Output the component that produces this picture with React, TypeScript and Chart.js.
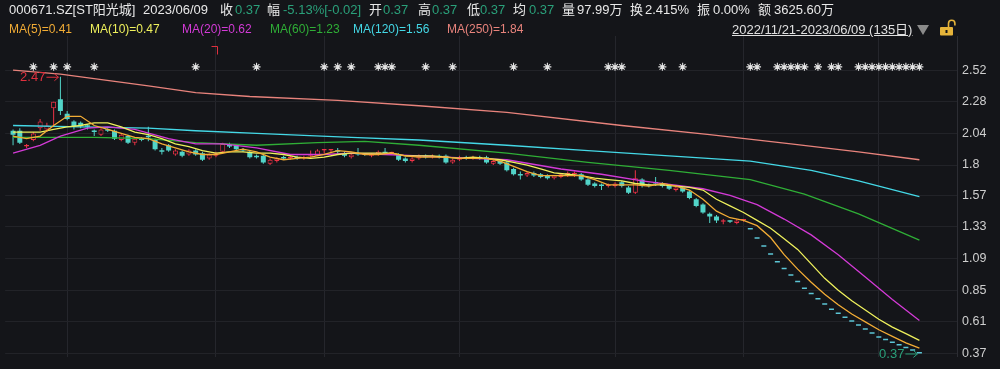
import React, { useEffect, useRef } from "react";
import { Chart, registerables } from "chart.js";
Chart.register(...registerables);

const BG = "#141519";
const RED = "#ee3347";
const CYAN = "#52d4c8";
const DASH = "#5cc6d6";
const GREEN_TXT = "#2aa07a";
const FONT = '"Liberation Sans", "Noto Sans CJK SC", sans-serif';

// ---- daily candles (135 trading days, 2022/11/21 - 2023/06/09) ----
const OPEN = [
  2.06, 2.06, 1.94, 1.99, 2.08, 2.07, 2.23, 2.30, 2.19, 2.13,
  2.12, 2.10, 2.06, 2.03, 2.07, 2.06, 1.99, 2.02, 1.97, 2.00,
  2.02, 1.99, 1.91, 1.95, 1.88, 1.90, 1.88, 1.91, 1.89, 1.85,
  1.87, 1.90, 1.96, 1.95, 1.92, 1.90, 1.87, 1.87, 1.81, 1.83,
  1.86, 1.85, 1.86, 1.85, 1.87, 1.87, 1.91, 1.91, 1.91, 1.89,
  1.86, 1.89, 1.89, 1.87, 1.88, 1.90, 1.89, 1.88, 1.85, 1.83,
  1.85, 1.87, 1.86, 1.87, 1.87, 1.82, 1.84, 1.86, 1.85, 1.86,
  1.86, 1.81, 1.83, 1.82, 1.77, 1.73, 1.72, 1.74, 1.73, 1.72,
  1.70, 1.71, 1.72, 1.73, 1.73, 1.69, 1.66, 1.65, 1.64, 1.64,
  1.67, 1.63, 1.59, 1.69, 1.65, 1.67, 1.66, 1.65, 1.61, 1.63,
  1.60, 1.54, 1.50, 1.43, 1.41, 1.37, 1.38, 1.36, 1.38,
  1.31, 1.24, 1.18, 1.12, 1.06, 1.01, 0.96, 0.91, 0.86, 0.82,
  0.78, 0.74, 0.70, 0.67, 0.64, 0.61, 0.58, 0.55, 0.52, 0.49,
  0.47, 0.45, 0.43, 0.41, 0.39, 0.37,
];
const HIGH = [
  2.07, 2.08, 1.96, 2.05, 2.15, 2.12, 2.28, 2.47, 2.21, 2.14,
  2.13, 2.11, 2.07, 2.08, 2.08, 2.07, 2.04, 2.03, 2.01, 2.01,
  2.09, 2.00, 1.93, 1.96, 1.92, 1.91, 1.92, 1.92, 1.90, 1.89,
  1.90, 1.97, 1.97, 1.96, 1.93, 1.91, 1.88, 1.88, 1.85, 1.86,
  1.87, 1.87, 1.87, 1.87, 1.91, 1.92, 1.92, 1.92, 1.93, 1.90,
  1.89, 1.93, 1.89, 1.89, 1.91, 1.93, 1.90, 1.89, 1.86, 1.86,
  1.88, 1.88, 1.88, 1.88, 1.88, 1.85, 1.87, 1.87, 1.87, 1.87,
  1.87, 1.84, 1.84, 1.83, 1.78, 1.75, 1.75, 1.75, 1.74, 1.73,
  1.72, 1.74, 1.75, 1.75, 1.74, 1.70, 1.67, 1.66, 1.66, 1.67,
  1.68, 1.64, 1.76, 1.70, 1.66, 1.71, 1.67, 1.65, 1.64, 1.64,
  1.61, 1.55, 1.51, 1.44, 1.42, 1.39, 1.38, 1.39, 1.39,
  1.31, 1.24, 1.18, 1.12, 1.06, 1.01, 0.96, 0.91, 0.86, 0.82,
  0.78, 0.74, 0.70, 0.67, 0.64, 0.61, 0.58, 0.55, 0.52, 0.49,
  0.47, 0.45, 0.43, 0.41, 0.39, 0.37,
];
const LOW = [
  1.95, 1.96, 1.93, 1.98, 2.06, 2.05, 2.10, 2.18, 2.14, 2.07,
  2.08, 2.07, 2.02, 2.02, 2.05, 1.99, 1.98, 1.96, 1.95, 1.98,
  1.98, 1.91, 1.88, 1.90, 1.87, 1.86, 1.87, 1.87, 1.83, 1.84,
  1.86, 1.89, 1.93, 1.91, 1.90, 1.85, 1.85, 1.81, 1.80, 1.82,
  1.84, 1.84, 1.84, 1.84, 1.86, 1.87, 1.89, 1.89, 1.88, 1.86,
  1.85, 1.87, 1.87, 1.86, 1.87, 1.88, 1.88, 1.83, 1.82, 1.82,
  1.84, 1.85, 1.85, 1.85, 1.81, 1.81, 1.83, 1.84, 1.84, 1.84,
  1.81, 1.80, 1.80, 1.75, 1.72, 1.69, 1.71, 1.71, 1.70, 1.69,
  1.69, 1.70, 1.71, 1.71, 1.68, 1.64, 1.63, 1.61, 1.63, 1.63,
  1.63, 1.58, 1.58, 1.63, 1.63, 1.64, 1.63, 1.61, 1.60, 1.59,
  1.54, 1.48, 1.43, 1.36, 1.36, 1.35, 1.36, 1.35, 1.37,
  1.31, 1.24, 1.18, 1.12, 1.06, 1.01, 0.96, 0.91, 0.86, 0.82,
  0.78, 0.74, 0.70, 0.67, 0.64, 0.61, 0.58, 0.55, 0.52, 0.49,
  0.47, 0.45, 0.43, 0.41, 0.39, 0.37,
];
const CLOSE = [
  2.03, 1.97, 1.95, 2.04, 2.13, 2.10, 2.28, 2.21, 2.15, 2.09,
  2.10, 2.09, 2.05, 2.07, 2.06, 2.00, 2.03, 1.97, 2.00, 1.99,
  2.01, 1.92, 1.90, 1.91, 1.91, 1.87, 1.91, 1.88, 1.84, 1.88,
  1.89, 1.96, 1.94, 1.92, 1.91, 1.86, 1.86, 1.82, 1.84, 1.85,
  1.85, 1.86, 1.85, 1.86, 1.88, 1.91, 1.92, 1.92, 1.90, 1.87,
  1.88, 1.88, 1.88, 1.88, 1.90, 1.89, 1.89, 1.84, 1.83, 1.85,
  1.87, 1.86, 1.87, 1.86, 1.82, 1.84, 1.86, 1.85, 1.86, 1.85,
  1.82, 1.83, 1.81, 1.76, 1.73, 1.72, 1.74, 1.72, 1.71, 1.70,
  1.72, 1.73, 1.74, 1.74, 1.69, 1.65, 1.64, 1.64, 1.65, 1.66,
  1.64, 1.59, 1.70, 1.64, 1.64, 1.66, 1.64, 1.62, 1.63, 1.60,
  1.55, 1.49, 1.44, 1.41, 1.38, 1.38, 1.37, 1.38, 1.38,
  1.31, 1.24, 1.18, 1.12, 1.06, 1.01, 0.96, 0.91, 0.86, 0.82,
  0.78, 0.74, 0.70, 0.67, 0.64, 0.61, 0.58, 0.55, 0.52, 0.49,
  0.47, 0.45, 0.43, 0.41, 0.39, 0.37,
];

// ---- moving averages as [day index, value] ----
const MA5: [number, number][] = [
  [0, 2.02], [2, 2.0], [4, 2.02], [6, 2.1], [8, 2.17], [10, 2.17], [12, 2.1], [14, 2.07],
  [16, 2.04], [18, 2.01], [20, 2.0], [22, 1.96], [24, 1.93], [26, 1.9], [28, 1.88], [30, 1.88],
  [32, 1.9], [34, 1.92], [36, 1.9], [38, 1.86], [40, 1.84], [42, 1.85], [44, 1.86], [46, 1.88],
  [48, 1.91], [50, 1.9], [52, 1.88], [54, 1.88], [56, 1.89], [58, 1.87], [60, 1.86], [62, 1.86],
  [64, 1.86], [66, 1.85], [68, 1.85], [70, 1.85], [72, 1.83], [74, 1.79], [76, 1.75], [78, 1.72],
  [80, 1.72], [82, 1.72], [84, 1.72], [86, 1.69], [88, 1.65], [90, 1.65], [92, 1.65], [94, 1.64],
  [96, 1.66], [98, 1.64], [100, 1.61], [102, 1.54], [104, 1.45], [106, 1.4], [108, 1.38], [110, 1.34],
  [112, 1.25], [114, 1.12], [116, 1.01], [118, 0.91], [120, 0.82], [122, 0.74], [124, 0.67], [126, 0.61],
  [128, 0.55], [130, 0.5], [132, 0.45], [134, 0.41],
];
const MA10: [number, number][] = [
  [0, 2.05], [2, 2.05], [4, 2.05], [6, 2.07], [8, 2.09], [10, 2.1], [12, 2.12], [14, 2.12],
  [16, 2.09], [18, 2.05], [20, 2.03], [22, 2.0], [24, 1.96], [26, 1.94], [28, 1.91], [30, 1.89],
  [32, 1.9], [34, 1.9], [36, 1.89], [38, 1.89], [40, 1.88], [42, 1.86], [44, 1.85], [46, 1.86],
  [48, 1.88], [50, 1.89], [52, 1.89], [54, 1.89], [56, 1.89], [58, 1.87], [60, 1.87], [62, 1.87],
  [64, 1.86], [66, 1.85], [68, 1.86], [70, 1.85], [72, 1.84], [74, 1.82], [76, 1.8], [78, 1.77],
  [80, 1.74], [82, 1.73], [84, 1.72], [86, 1.7], [88, 1.69], [90, 1.68], [92, 1.66], [94, 1.65],
  [96, 1.65], [98, 1.64], [100, 1.63], [102, 1.61], [104, 1.54], [106, 1.49], [108, 1.44], [110, 1.38],
  [112, 1.32], [114, 1.24], [116, 1.16], [118, 1.05], [120, 0.94], [122, 0.85], [124, 0.77], [126, 0.7],
  [128, 0.63], [130, 0.57], [132, 0.52], [134, 0.47],
];
const MA20: [number, number][] = [
  [0, 1.89], [4, 1.95], [7, 2.02], [11, 2.08], [14, 2.09], [18, 2.07], [23, 2.0], [27, 1.96],
  [31, 1.96], [36, 1.93], [41, 1.88], [46, 1.88], [50, 1.89], [55, 1.88], [60, 1.87], [68, 1.85],
  [73, 1.84], [81, 1.77], [87, 1.73], [93, 1.68], [102, 1.62], [106, 1.57], [110, 1.5], [114, 1.39],
  [118, 1.27], [122, 1.12], [126, 0.95], [130, 0.78], [134, 0.62],
];
const MA60: [number, number][] = [
  [0, 2.01], [12, 2.01], [20, 2.0], [27, 1.97], [36, 1.95], [45, 1.97], [52, 1.98], [60, 1.95],
  [73, 1.89], [85, 1.82], [97, 1.76], [109, 1.69], [117, 1.58], [125, 1.43], [134, 1.23],
];
const MA120: [number, number][] = [
  [0, 2.1], [10, 2.09], [20, 2.08], [27, 2.06], [36, 2.04], [50, 2.01], [60, 1.99], [73, 1.95],
  [85, 1.91], [97, 1.87], [109, 1.83], [118, 1.76], [125, 1.68], [134, 1.56],
];
const MA250: [number, number][] = [
  [0, 2.52], [7, 2.49], [20, 2.4], [27, 2.35], [35, 2.32], [48, 2.29], [60, 2.25], [73, 2.2],
  [90, 2.1], [103, 2.03], [115, 1.96], [125, 1.9], [134, 1.84],
];

// ---- markers & axes ----
const STAR_DAYS = [
  3, 6, 8, 12, 27, 36, 46, 48, 50, 54, 55, 56, 61, 65, 74, 79, 88, 89, 90, 96, 99,
  109, 110, 113, 114, 115, 116, 117, 119, 121, 122,
  125, 126, 127, 128, 129, 130, 131, 132, 133, 134,
];
const STAR_LEVEL = 2.545;
const INFO_DAYS = [30];
const MONTH_STARTS = [8, 30, 46, 66, 89, 108, 128];
const Y_TICKS = [2.52, 2.28, 2.04, 1.8, 1.57, 1.33, 1.09, 0.85, 0.61, 0.37];
const Y_LABELS = ["2.52", "2.28", "2.04", "1.8", "1.57", "1.33", "1.09", "0.85", "0.61", "0.37"];

const HEADER_ROW1: [number, string, string][] = [
  [9, "000671.SZ[ST阳光城]", "#e8e8e8"],
  [143, "2023/06/09", "#e8e8e8"],
  [220, "收", "#e8e8e8"], [235, "0.37", GREEN_TXT],
  [267, "幅", "#e8e8e8"], [283, "-5.13%[-0.02]", GREEN_TXT],
  [369, "开", "#e8e8e8"], [383, "0.37", GREEN_TXT],
  [418, "高", "#e8e8e8"], [432, "0.37", GREEN_TXT],
  [467, "低", "#e8e8e8"], [480, "0.37", GREEN_TXT],
  [513, "均", "#e8e8e8"], [529, "0.37", GREEN_TXT],
  [562, "量", "#e8e8e8"], [577, "97.99万", "#e8e8e8"],
  [630, "换", "#e8e8e8"], [645, "2.415%", "#e8e8e8"],
  [697, "振", "#e8e8e8"], [713, "0.00%", "#e8e8e8"],
  [758, "额", "#e8e8e8"], [774, "3625.60万", "#e8e8e8"],
];
const MA_COLORS = ["#f2ac35", "#eef05c", "#d33ad6", "#2fae36", "#44d8e6", "#e8837c"];
const MA_LEGEND: [number, string][] = [
  [9, "MA(5)=0.41"], [90, "MA(10)=0.47"], [182, "MA(20)=0.62"],
  [270, "MA(60)=1.23"], [353, "MA(120)=1.56"], [447, "MA(250)=1.84"],
];

const annotPlugin = {
  id: "annot",
  afterDatasetsDraw(chart: any) {
    const { ctx, scales, chartArea } = chart;
    const x = scales.x, y = scales.y;
    ctx.save();
    ctx.font = `13px ${FONT}`;
    ctx.textBaseline = "middle";
    ctx.textAlign = "right";
    ctx.lineWidth = 1;
    const arrow = (px: number, py: number, label: string, color: string) => {
      ctx.strokeStyle = color;
      ctx.fillStyle = color;
      ctx.beginPath();
      ctx.moveTo(px - 14, py + 0.5);
      ctx.lineTo(px - 2, py + 0.5);
      ctx.moveTo(px - 6, py - 3);
      ctx.lineTo(px - 2, py + 0.5);
      ctx.lineTo(px - 6, py + 4);
      ctx.stroke();
      ctx.fillText(label, px - 15, py + 1);
    };
    let hi = 0;
    let lo = 0;
    HIGH.forEach((v, i) => { if (v > HIGH[hi]) hi = i; });
    LOW.forEach((v, i) => { if (v <= LOW[lo]) lo = i; });
    arrow(x.getPixelForValue(hi), y.getPixelForValue(HIGH[hi]), HIGH[hi].toFixed(2), "#e0303e");
    arrow(x.getPixelForValue(lo), y.getPixelForValue(LOW[lo]), LOW[lo].toFixed(2), GREEN_TXT);
    ctx.strokeStyle = "#e0303e";
    INFO_DAYS.forEach((d) => {
      const px = Math.round(x.getPixelForValue(d)) + 1.5;
      const py = chartArea.top + 10.5;
      ctx.beginPath();
      ctx.moveTo(px - 6, py);
      ctx.lineTo(px, py);
      ctx.lineTo(px, py + 8);
      ctx.stroke();
    });
    ctx.restore();
  },
};

function Txt(props: { x: number; y: number; s: number; c: string; u?: boolean; children: any }) {
  const { x, y, s, c, u, children } = props;
  return (
    <span
      style={{
        position: "absolute",
        left: x,
        top: y - s * 0.6,
        fontSize: s,
        lineHeight: `${s * 1.2}px`,
        color: c,
        whiteSpace: "nowrap",
        textDecoration: u ? "underline" : "none",
      }}
    >
      {children}
    </span>
  );
}

export default function App() {
  const ref = useRef<HTMLCanvasElement | null>(null);

  useEffect(() => {
    const N = CLOSE.length;
    const idx = Array.from({ length: N }, (_, i) => i);
    const up = idx.map((i) =>
      CLOSE[i] > OPEN[i] || (CLOSE[i] === OPEN[i] && i > 0 && CLOSE[i] >= CLOSE[i - 1])
    );
    const limit = idx.map((i) => HIGH[i] === LOW[i]);
    const toPts = (a: [number, number][]) => a.map(([x, y]) => ({ x, y }));
    const maSets = [MA5, MA10, MA20, MA60, MA120, MA250].map((m, k) => ({
      type: "line" as const,
      data: toPts(m),
      borderColor: MA_COLORS[k],
      borderWidth: 1.3,
      pointRadius: 0,
      tension: 0,
      order: 0,
    }));

    const chart = new Chart(ref.current as HTMLCanvasElement, {
      type: "bar",
      data: {
        datasets: [
          ...maSets,
          {
            type: "line",
            data: STAR_DAYS.map((d) => ({ x: d, y: STAR_LEVEL })),
            showLine: false,
            pointStyle: "star",
            pointRadius: 4,
            borderColor: "#e4e4e4",
            borderWidth: 1.1,
            order: 1,
          } as any,
          {
            type: "bar",
            data: idx.map((i) => ({ x: i, y: [OPEN[i], CLOSE[i]] })),
            backgroundColor: idx.map((i) => (limit[i] ? DASH : up[i] ? BG : CYAN)),
            borderColor: idx.map((i) => (limit[i] ? DASH : up[i] ? RED : CYAN)),
            borderWidth: idx.map((i) => (up[i] && !limit[i] ? 1 : 0)),
            barThickness: 5,
            minBarLength: 1.5,
            grouped: false,
            inflateAmount: 0,
            borderSkipped: false,
            order: 2,
          } as any,
          {
            type: "bar",
            data: idx.map((i) => ({ x: i, y: [LOW[i], HIGH[i]] })),
            backgroundColor: idx.map((i) => (limit[i] ? "rgba(0,0,0,0)" : up[i] ? RED : CYAN)),
            borderWidth: 0,
            barThickness: 1,
            grouped: false,
            inflateAmount: 0,
            order: 3,
          } as any,
        ],
      },
      options: {
        responsive: false,
        animation: false,
        events: [],
        layout: { padding: { top: 36, bottom: 8, left: 0, right: 0 } },
        plugins: { legend: { display: false }, tooltip: { enabled: false } },
        scales: {
          x: {
            type: "linear",
            offset: false,
            min: -8 / 6.8,
            max: 949 / 6.8,
            afterBuildTicks: (s: any) => {
              s.ticks = MONTH_STARTS.map((v) => ({ value: v }));
            },
            afterFit: (s: any) => {
              s.height = 0;
            },
            ticks: { display: false },
            grid: { color: "#25262c", drawTicks: false, lineWidth: 1, offset: false },
            border: { display: false },
          },
          y: {
            position: "right",
            min: 0.347,
            max: 2.7792,
            afterBuildTicks: (s: any) => {
              s.ticks = Y_TICKS.map((v) => ({ value: v }));
            },
            afterFit: (s: any) => {
              s.width = 43;
            },
            ticks: {
              color: "#cfcfcf",
              padding: 5,
              font: { size: 12.5, family: FONT },
              callback: (_v: any, i: number) => Y_LABELS[i],
            },
            grid: { color: "#222328", drawTicks: false },
            border: { display: true, color: "#2c2d33" },
          },
        },
      } as any,
      plugins: [annotPlugin],
    });
    return () => chart.destroy();
  }, []);

  return (
    <div
      style={{
        position: "fixed",
        left: 0,
        top: 0,
        width: 1000,
        height: 369,
        background: BG,
        overflow: "hidden",
        fontFamily: FONT,
      }}
    >
      <canvas ref={ref} width={1000} height={369} style={{ position: "absolute", left: 0, top: 0 }} />
      {HEADER_ROW1.map(([x, t, c], k) => (
        <Txt key={"h" + k} x={x} y={10} s={13} c={c}>
          {t}
        </Txt>
      ))}
      {MA_LEGEND.map(([x, t], k) => (
        <Txt key={"m" + k} x={x} y={29.5} s={12} c={MA_COLORS[k]}>
          {t}
        </Txt>
      ))}
      <Txt x={732} y={29.5} s={13} c="#e0e0e0" u>
        2022/11/21-2023/06/09 (135日)
      </Txt>
      <div
        style={{
          position: "absolute",
          left: 917,
          top: 25,
          width: 0,
          height: 0,
          borderLeft: "6.5px solid transparent",
          borderRight: "6.5px solid transparent",
          borderTop: "10px solid #8a8a8a",
        }}
      />
      <svg width={20} height={17} style={{ position: "absolute", left: 938, top: 19 }}>
        <path d="M10.5 8 V4.5 A3.2 3.2 0 0 1 16.9 4.5 V6.5" stroke="#e6b43a" strokeWidth={1.6} fill="none" />
        <rect x={2} y={8} width={13} height={8.5} rx={1} fill="#e6b43a" />
        <rect x={7.5} y={11} width={2} height={3} fill={BG} />
      </svg>
    </div>
  );
}
